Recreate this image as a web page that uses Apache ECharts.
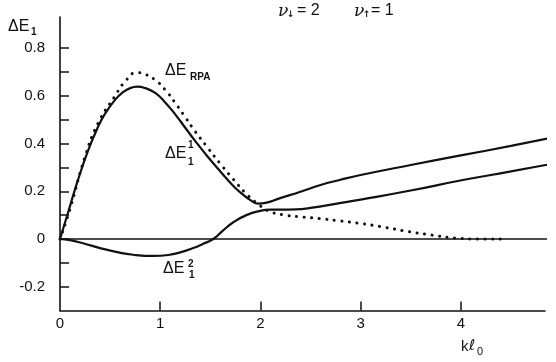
<!DOCTYPE html>
<html>
<head>
<meta charset="utf-8">
<script src="https://cdn.jsdelivr.net/npm/echarts@6/dist/echarts.min.js"></script>
<style>
  html, body { margin: 0; padding: 0; background: #fff; }
  #chart { width: 556px; height: 362px; }
</style>
</head>
<body>
<div id="chart"></div>
<script>
// kl0 values and energies
const e1x = [0, 0.08, 0.17, 0.28, 0.38, 0.45, 0.55, 0.62, 0.7, 0.77, 0.85, 0.95, 1.05, 1.15, 1.25, 1.35, 1.46, 1.6, 1.73, 1.82, 1.9, 1.98, 2.05, 2.19, 2.4, 2.6, 2.79, 3.0, 3.5, 4.0, 4.5, 4.95]
const e1y = [0, 0.11, 0.235, 0.37, 0.47, 0.525, 0.583, 0.612, 0.632, 0.638, 0.632, 0.612, 0.572, 0.522, 0.466, 0.41, 0.352, 0.283, 0.222, 0.188, 0.163, 0.148, 0.151, 0.17, 0.198, 0.226, 0.247, 0.268, 0.31, 0.35, 0.39, 0.428]

const e2x = [0, 0.1, 0.23, 0.4, 0.57, 0.73, 0.93, 1.08, 1.2, 1.33, 1.43, 1.53, 1.62, 1.73, 1.86, 2.0, 2.1, 2.2, 2.35, 2.5, 2.79, 3.0, 3.5, 4.02, 4.5, 4.95]
const e2y = [0, -0.005, -0.018, -0.038, -0.055, -0.066, -0.071, -0.067, -0.056, -0.038, -0.02, 0, 0.033, 0.07, 0.1, 0.118, 0.123, 0.123, 0.124, 0.13, 0.15, 0.165, 0.203, 0.247, 0.283, 0.318]

const rpaX = [0, 0.1, 0.25, 0.38, 0.55, 0.65, 0.765, 0.85, 0.95, 1.05, 1.15, 1.25, 1.35, 1.46, 1.6, 1.73, 1.85, 1.98, 2.1, 2.25, 2.4, 2.6, 2.77, 2.98, 3.2, 3.48, 3.7, 3.95, 4.2, 4.45]
const rpaY = [0, 0.125, 0.345, 0.485, 0.6, 0.66, 0.697, 0.69, 0.666, 0.625, 0.57, 0.51, 0.45, 0.39, 0.315, 0.25, 0.193, 0.145, 0.114, 0.1, 0.093, 0.085, 0.077, 0.066, 0.052, 0.031, 0.017, 0.004, 0, 0]

const zeroX = [0, 4.95]
const zeroY = [0, 0]

const xLabels = [0, 1, 2, 3, 4]
const xTicks = [1, 2, 3, 4]
const yLabels = [-0.2, 0, 0.2, 0.4, 0.6, 0.8]
const yTicks = [-0.2, -0.1, 0, 0.1, 0.2, 0.3, 0.4, 0.5, 0.6, 0.7, 0.8]

const zip = (xs, ys) => xs.map((x, i) => [x, ys[i]])

const FONT = '"Liberation Sans", Arial, sans-serif'
const INK = '#111'

function txt(x, y, text, size, extra) {
  return {
    type: 'text',
    x: x,
    y: y,
    style: Object.assign({
      text: text,
      fill: INK,
      font: size + 'px ' + FONT,
      textVerticalAlign: 'middle'
    }, extra || {})
  }
}

const chart = echarts.init(document.getElementById('chart'), null, { renderer: 'canvas' })

chart.setOption({
  backgroundColor: '#fff',
  animation: false,
  grid: {
    left: 60,
    right: 11,
    top: 17,
    bottom: 51.4,
    containLabel: false
  },
  xAxis: {
    type: 'value',
    min: 0,
    max: 4.84,
    splitLine: { show: false },
    axisLine: { onZero: false, lineStyle: { color: INK, width: 1.6 } },
    axisTick: {
      inside: true,
      length: 9,
      customValues: xTicks,
      lineStyle: { color: INK, width: 1.5 }
    },
    axisLabel: {
      customValues: xLabels,
      margin: 6,
      color: INK,
      fontSize: 15,
      fontFamily: FONT
    }
  },
  yAxis: {
    type: 'value',
    min: -0.3,
    max: 0.93,
    splitLine: { show: false },
    axisLine: { onZero: false, lineStyle: { color: INK, width: 1.6 } },
    axisTick: {
      inside: true,
      length: 9,
      customValues: yTicks,
      lineStyle: { color: INK, width: 1.5 }
    },
    axisLabel: {
      customValues: yLabels,
      margin: 15,
      color: INK,
      fontSize: 15,
      fontFamily: FONT,
      formatter: v => (Math.abs(v) < 1e-9 ? '0' : v.toFixed(1))
    }
  },
  series: [
    {
      name: 'zero',
      type: 'line',
      data: zip(zeroX, zeroY),
      symbol: 'none',
      clip: false,
      lineStyle: { color: INK, width: 1.3 }
    },
    {
      name: 'ΔE1^1',
      type: 'line',
      data: zip(e1x, e1y),
      symbol: 'none',
      smooth: 0.5,
      clip: false,
      lineStyle: { color: INK, width: 2.2 }
    },
    {
      name: 'ΔE1^2',
      type: 'line',
      data: zip(e2x, e2y),
      symbol: 'none',
      smooth: 0.5,
      clip: false,
      lineStyle: { color: INK, width: 2.2 }
    },
    {
      name: 'ΔE_RPA',
      type: 'line',
      data: zip(rpaX, rpaY),
      symbol: 'none',
      smooth: 0.5,
      clip: false,
      lineStyle: { color: INK, width: 3, type: [0.1, 7.5], cap: 'round' }
    }
  ],
  graphic: [
    // y axis name
    txt(8, 27, 'ΔE', 16),
    txt(31, 32, '1', 10, { font: 'bold 10px ' + FONT }),
    // top annotation
    txt(278, 12, 'ν', 17, { font: 'italic 17px "DejaVu Serif", serif' }),
    txt(287, 15, '↓', 9, { font: 'bold 9px "DejaVu Sans", sans-serif' }),
    txt(297, 11, '= 2', 16),
    txt(354, 12, 'ν', 17, { font: 'italic 17px "DejaVu Serif", serif' }),
    txt(363, 15, '↑', 9, { font: 'bold 9px "DejaVu Sans", sans-serif' }),
    txt(371, 11, '= 1', 16),
    // RPA label
    txt(165, 71, 'ΔE', 16),
    txt(190, 77, 'RPA', 10, { font: 'bold 10px ' + FONT }),
    // ΔE1^1 label
    txt(165, 154, 'ΔE', 16),
    txt(188, 145, '1', 10, { font: 'bold 10px ' + FONT }),
    txt(188, 162, '1', 10, { font: 'bold 10px ' + FONT }),
    // ΔE1^2 label
    txt(163, 269, 'ΔE', 16),
    txt(188, 264, '2', 10, { font: 'bold 10px ' + FONT }),
    txt(189, 275, '1', 10, { font: 'bold 10px ' + FONT }),
    // x axis name
    txt(461, 347, 'k', 15),
    txt(469, 346, 'ℓ', 15, { font: '15px "DejaVu Sans", sans-serif' }),
    txt(477, 352, '0', 11)
  ]
})
</script>
</body>
</html>
